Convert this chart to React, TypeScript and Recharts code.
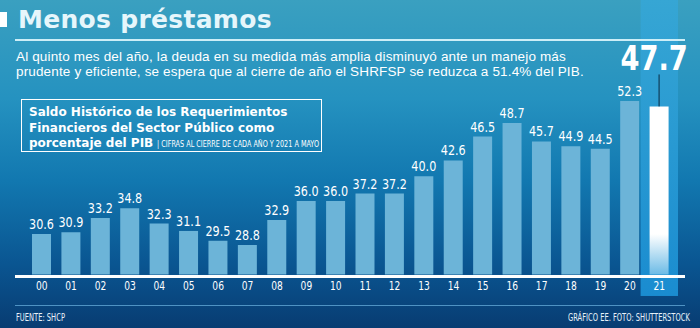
import { Bar, BarChart, Cell, LabelList, ReferenceArea, XAxis, YAxis } from "recharts";

// Saldo Histórico de los RFSP, % del PIB (2021 a mayo)
const anios = ["00", "01", "02", "03", "04", "05", "06", "07", "08", "09", "10",
  "11", "12", "13", "14", "15", "16", "17", "18", "19", "20", "21"];
const saldo = [30.6, 30.9, 33.2, 34.8, 32.3, 31.1, 29.5, 28.8, 32.9, 36.0, 36.0,
  37.2, 37.2, 40.0, 42.6, 46.5, 48.7, 45.7, 44.9, 44.5, 52.3, 47.7];
// estimado al cierre de 2021 (barra blanca)
const cierreEstimado2021 = 51.4;

const data = anios.map((anio, i) => ({
  anio,
  saldo: saldo[i],
  barra: i === anios.length - 1 ? cierreEstimado2021 : saldo[i],
}));

const narrow = "'DejaVu Sans Condensed', 'Liberation Sans Narrow', sans-serif";
const geometric = "'DejaVu Sans', Verdana, sans-serif";
const body = "'Liberation Sans', Arial, sans-serif";

const lastIndex = anios.length - 1;

// squeeze text horizontally, like the condensed face of the original
function Squeezed({ x, y, sx, children, ...rest }: any) {
  return (
    <text transform={`translate(${x},${y}) scale(${sx},1)`} textAnchor="middle" fill="#ffffff" {...rest}>
      {children}
    </text>
  );
}

function ValueLabel(props: any) {
  const { x, y, width, index } = props;
  const cx = x + width / 2;
  if (index === lastIndex) {
    return (
      <g>
        <line x1={cx} x2={cx} y1={y - 32} y2={y} stroke="#0a2a40" strokeWidth={1} />
        <Squeezed x={cx - 5} y={y - 36} sx={0.92} fontFamily={narrow} fontWeight="bold" fontSize={33}>
          {saldo[index].toFixed(1)}
        </Squeezed>
      </g>
    );
  }
  return (
    <Squeezed x={cx} y={y - 5} sx={0.86} fontFamily={narrow} fontSize={14.5}>
      {saldo[index].toFixed(1)}
    </Squeezed>
  );
}

function YearTick(props: any) {
  const { x, payload } = props;
  return (
    <Squeezed x={x} y={290} sx={0.78} fontFamily={narrow} fontSize={13}>
      {payload.value}
    </Squeezed>
  );
}

function Band(props: any) {
  const { x, y, width, height } = props;
  return <rect x={x - 4} y={y} width={width + 8} height={height} fill="url(#band)" />;
}

const squeeze = (s: number): any => ({ display: "inline-block", transform: `scaleX(${s})`, transformOrigin: "left" });

export default function App() {
  return (
    <div style={{ position: "absolute", left: 0, top: 0, width: 700, height: 328, overflow: "hidden",
      background: "linear-gradient(180deg, #3aa0c0 0%, #2592c0 30%, #1278b0 55%, #0a5692 80%, #083c72 100%)" }}>
      <div style={{ position: "absolute", left: 0, top: 0 }}>
        <BarChart width={700} height={328} data={data}
          margin={{ top: 53.7, right: 26, bottom: 23.5, left: 27 }}>
          <defs>
            <linearGradient id="white21" x1="0" y1="0" x2="0" y2="1">
              <stop offset="0%" stopColor="#ffffff" />
              <stop offset="76%" stopColor="#ffffff" />
              <stop offset="100%" stopColor="#6cbbe6" />
            </linearGradient>
            <linearGradient id="band" x1="0" y1="0" x2="0" y2="1">
              <stop offset="0%" stopColor="#36a6d4" />
              <stop offset="100%" stopColor="#1a8cd0" />
            </linearGradient>
          </defs>
          <ReferenceArea x1="21" x2="21" y1={20.5} y2={68.8} ifOverflow="visible" shape={Band} />
          <XAxis dataKey="anio" axisLine={false} tickLine={false} height={30}
            interval={0} tick={YearTick} />
          <YAxis hide domain={[24, 60]} />
          <Bar dataKey="barra" barSize={19} isAnimationActive={false}>
            {data.map((d, i) => (
              <Cell key={d.anio} fill={i === lastIndex ? "url(#white21)" : "#6cb4d8"} />
            ))}
            <LabelList dataKey="saldo" content={ValueLabel} />
          </Bar>
        </BarChart>
      </div>

      {/* overlays */}
      <div style={{ position: "absolute", left: 0, top: 12, width: 7, height: 15, background: "#ffffff" }} />
      <div style={{ position: "absolute", left: 18, top: 5, fontFamily: geometric, fontWeight: "bold",
        fontSize: 25, color: "#e6f6fb", letterSpacing: 0.3, whiteSpace: "nowrap" }}>
        Menos préstamos
      </div>
      <div style={{ position: "absolute", left: 15, top: 39, width: 670, height: 2, background: "#cdeef7" }} />
      <div style={{ position: "absolute", left: 16, top: 49, fontFamily: body, fontSize: 13.5,
        lineHeight: "15px", color: "#ffffff", whiteSpace: "nowrap", letterSpacing: 0.15 }}>
        <div>Al quinto mes del año, la deuda en su medida más amplia disminuyó ante un manejo más</div>
        <div>prudente y eficiente, se espera que al cierre de año el SHRFSP se reduzca a 51.4% del PIB.</div>
      </div>
      <div style={{ position: "absolute", left: 21, top: 99, width: 299, height: 51,
        border: "1.5px solid #ffffff" }} />
      <div style={{ position: "absolute", left: 29, top: 105, fontFamily: geometric, fontWeight: "bold",
        fontSize: 12, lineHeight: "15.5px", color: "#ffffff", whiteSpace: "nowrap" }}>
        <div>Saldo Histórico de los Requerimientos</div>
        <div>Financieros del Sector Público como</div>
        <div>
          porcentaje del PIB{" "}
          <span style={{ ...squeeze(0.8), fontFamily: narrow, fontWeight: "normal", fontSize: 9 }}>
            | CIFRAS AL CIERRE DE CADA AÑO Y 2021 A MAYO
          </span>
        </div>
      </div>
      <div style={{ position: "absolute", left: 15, top: 274.5, width: 670, height: 3, background: "#ffffff" }} />
      <div style={{ position: "absolute", left: 15, top: 305, width: 670, height: 1, background: "#4f93c4" }} />
      <div style={{ position: "absolute", left: 16, top: 311, fontFamily: narrow, fontSize: 11,
        color: "#e8f2fa", whiteSpace: "nowrap" }}>
        <span style={squeeze(0.68)}>FUENTE: SHCP</span>
      </div>
      <div style={{ position: "absolute", left: 568, top: 311, fontFamily: narrow, fontSize: 11,
        color: "#e8f2fa", whiteSpace: "nowrap" }}>
        <span style={squeeze(0.68)}>GRÁFICO EE. FOTO: SHUTTERSTOCK</span>
      </div>
    </div>
  );
}
